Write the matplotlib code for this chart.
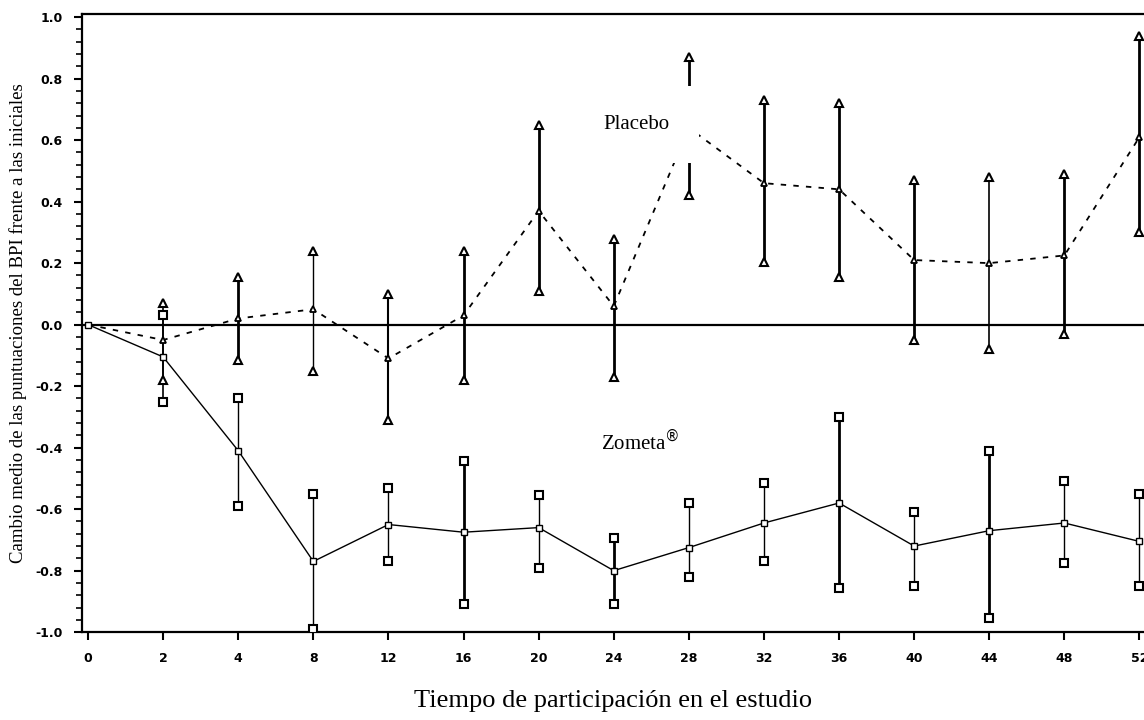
import numpy as np
import matplotlib.pyplot as plt
from matplotlib.ticker import MultipleLocator

# weeks on study (equally spaced categories)
weeks = ["0", "2", "4", "8", "12", "16", "20", "24", "28", "32", "36", "40", "44", "48", "52"]

placebo_mean = [0.0, -0.05, 0.02, 0.05, -0.11, 0.03, 0.37, 0.06, 0.64, 0.46, 0.44, 0.21, 0.20, 0.225, 0.61]
placebo_hi = [None, 0.07, 0.155, 0.24, 0.10, 0.24, 0.65, 0.28, 0.87, 0.73, 0.72, 0.47, 0.48, 0.49, 0.94]
placebo_lo = [None, -0.18, -0.115, -0.15, -0.31, -0.18, 0.11, -0.17, 0.42, 0.205, 0.155, -0.05, -0.08, -0.03, 0.30]

zometa_mean = [0.0, -0.105, -0.41, -0.77, -0.65, -0.675, -0.66, -0.80, -0.725, -0.645, -0.58, -0.72, -0.67, -0.645, -0.705]
zometa_hi = [None, 0.03, -0.24, -0.55, -0.53, -0.445, -0.555, -0.695, -0.58, -0.515, -0.30, -0.61, -0.41, -0.51, -0.55]
zometa_lo = [None, -0.25, -0.59, -0.99, -0.77, -0.91, -0.79, -0.91, -0.82, -0.77, -0.855, -0.85, -0.955, -0.775, -0.85]

yticks = [1.0, 0.8, 0.6, 0.4, 0.2, 0.0, -0.2, -0.4, -0.6, -0.8, -1.0]

# bar line widths (scan shows mixed weights)
placebo_lw = [1, 1.2, 2, 1, 1.5, 2, 2, 2, 2, 2, 2, 2, 1.2, 2, 2]
zometa_lw = [1, 1.2, 1, 1, 1, 2, 1, 2, 1, 1, 2, 1, 2, 1, 1]

x = np.arange(len(weeks))

fig = plt.figure(figsize=(11.44, 7.2), dpi=100)
ax = fig.add_axes([0.0717, 0.122, 0.9283, 0.8585])

ax.axhline(0, color="black", lw=1.6, zorder=1)

# zometa
ax.plot(x, zometa_mean, color="black", lw=1.0, zorder=2)
ax.plot(x, zometa_mean, "s", ms=5, mfc="white", mec="black", mew=1, zorder=3)
for i in x[1:]:
    ax.vlines(i, zometa_lo[i], zometa_hi[i], color="black", lw=zometa_lw[i], zorder=2)
    ax.plot([i, i], [zometa_lo[i], zometa_hi[i]], "s", ms=6, mfc="white",
            mec="black", mew=1.5, zorder=3)

# placebo
ax.plot(x, placebo_mean, color="black", lw=1.3, ls=(0, (3, 4)), zorder=2)
ax.plot(x[1:], placebo_mean[1:], "^", ms=5, mfc="white", mec="black", mew=1.3, zorder=3)
for i in x[1:]:
    ax.vlines(i, placebo_lo[i], placebo_hi[i], color="black", lw=placebo_lw[i], zorder=2)
    ax.plot([i, i], [placebo_lo[i], placebo_hi[i]], "^", ms=6, mfc="white",
            mec="black", mew=1.5, zorder=3)

ax.text(7.3, 0.65, "Placebo", fontsize=15, family="Liberation Serif",
        ha="center", va="center", zorder=5,
        bbox=dict(boxstyle="square,pad=1.4", fc="white", ec="none"))
ax.text(7.35, -0.38, "Zometa$^{®}$", fontsize=15, family="Liberation Serif",
        ha="center", va="center", zorder=5)

ax.set_xlim(-0.08, 14.06)
ax.set_ylim(-1.0, 1.01)
ax.set_xticks(x)
ax.set_xticklabels(weeks, fontsize=9, fontweight="bold")
ax.set_yticks(yticks)
ax.set_yticklabels([f"{v:.1f}" for v in yticks], fontsize=9, fontweight="bold")
ax.yaxis.set_minor_locator(MultipleLocator(0.04))
ax.tick_params(axis="both", which="major", direction="out", length=6, width=1.5, pad=8)
ax.tick_params(axis="y", which="minor", direction="out", length=4, width=1.2)
ax.spines["right"].set_visible(False)
for s in ["left", "bottom", "top"]:
    ax.spines[s].set_linewidth(1.6)

ax.set_xlabel("Tiempo de participación en el estudio", fontsize=19,
              family="Liberation Serif", labelpad=18)
ax.set_ylabel("Cambio medio de las puntuaciones del BPI frente a las iniciales",
              fontsize=13.5, family="Liberation Serif", labelpad=6)

fig.savefig("out.png", dpi=100)
